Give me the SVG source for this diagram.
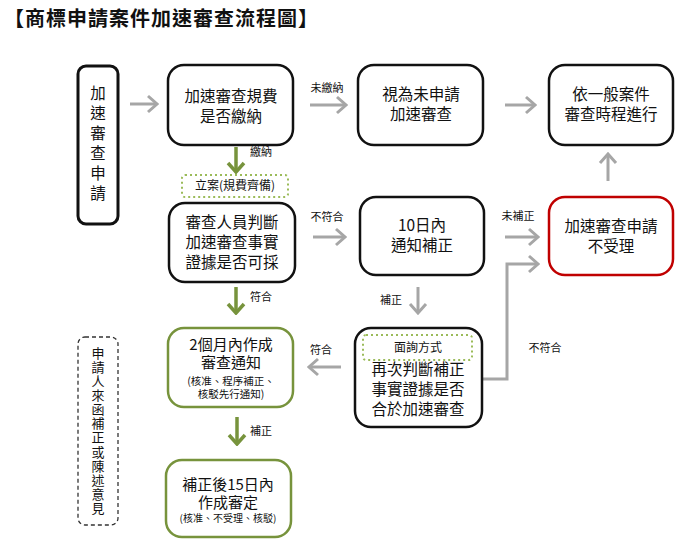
<svg xmlns="http://www.w3.org/2000/svg" width="690" height="552" viewBox="0 0 690 552">
<defs>
<marker id="ag" viewBox="-12 -10 14 20" refX="0" refY="0" markerWidth="14" markerHeight="20" markerUnits="userSpaceOnUse" orient="auto"><path d="M-9,-8 L0,0 L-9,8" fill="none" stroke="#a6a6a6" stroke-width="3"/></marker>
<marker id="agr" viewBox="-12 -10 14 20" refX="0" refY="0" markerWidth="14" markerHeight="20" markerUnits="userSpaceOnUse" orient="auto"><path d="M-9,-8 L0,0 L-9,8" fill="none" stroke="#77933c" stroke-width="3.5"/></marker>
<style>
text{font-family:"Noto Sans CJK TC","Noto Sans",sans-serif;fill:#111;text-anchor:middle}
.t{font-size:15.5px}
.s{font-size:10.5px}
.l{font-size:11px}
.v{writing-mode:vertical-rl;text-anchor:middle}
.b{fill:#fff;stroke:#111;stroke-width:2.5}
.g{fill:#fff;stroke:#77933c;stroke-width:2.5}
.r{fill:#fff;stroke:#c00000;stroke-width:2.5}
.d{fill:#fff;stroke:#9bbb59;stroke-width:2;stroke-dasharray:2 3}
.k{fill:#fff;stroke:#333;stroke-width:1.3;stroke-dasharray:4 3}
.ga{fill:none;stroke:#a6a6a6;stroke-width:3;marker-end:url(#ag)}
.gg{fill:none;stroke:#77933c;stroke-width:3.5;marker-end:url(#agr)}
</style>
</defs>
<text x="4" y="26" style="font-size:20px;font-weight:bold;letter-spacing:1px;text-anchor:start">【商標申請案件加速審查流程圖】</text>

<g id="connectors">
<line class="ga" x1="130" y1="104" x2="157" y2="104"/>
<line class="ga" x1="310" y1="105" x2="346" y2="105"/>
<text class="l" x="327" y="92">未繳納</text>
<line class="ga" x1="505" y1="105" x2="535" y2="105"/>
<line class="ga" x1="608" y1="181" x2="608" y2="154"/>
<line class="gg" x1="236" y1="147" x2="236" y2="172"/>
<text class="l" x="261" y="156">繳納</text>
<line class="ga" x1="313" y1="237" x2="345" y2="237"/>
<text class="l" x="327" y="221">不符合</text>
<line class="ga" x1="505" y1="237" x2="538" y2="237"/>
<text class="l" x="518" y="220">未補正</text>
<polyline class="ga" points="482,379 507,379 507,264 538,264"/>
<text class="l" x="545" y="352">不符合</text>
<line class="ga" x1="418" y1="287" x2="418" y2="313"/>
<text class="l" x="391" y="304">補正</text>
<line class="gg" x1="236" y1="287" x2="236" y2="313"/>
<text class="l" x="261" y="301">符合</text>
<line class="ga" x1="341" y1="367" x2="309" y2="367"/>
<text class="l" x="321" y="354">符合</text>
<line class="gg" x1="237" y1="417" x2="237" y2="444"/>
<text class="l" x="261" y="435">補正</text>
</g>

<g id="n_start">
<rect class="b" x="78" y="66" width="40" height="158" rx="8" style="stroke-width:3"/>
<text class="v" x="98" y="145" style="font-size:15.5px;letter-spacing:4.5px">加速審查申請</text>
</g>

<g id="n_fee">
<rect class="b" x="168" y="65" width="125" height="80" rx="16"/>
<text class="t" x="231" y="102">加速審查規費</text>
<text class="t" x="231" y="122">是否繳納</text>
</g>

<g id="n_notapplied">
<rect class="b" x="358" y="65" width="125" height="80" rx="16"/>
<text class="t" x="421" y="100">視為未申請</text>
<text class="t" x="421" y="120">加速審查</text>
</g>

<g id="n_general">
<rect class="b" x="549" y="65" width="124" height="80" rx="16"/>
<text class="t" x="611" y="100">依一般案件</text>
<text class="t" x="611" y="120">審查時程進行</text>
</g>

<g id="n_filed">
<rect class="d" x="182" y="175" width="106" height="22" rx="3"/>
<text x="235" y="190" style="font-size:12px">立案(規費齊備)</text>
</g>

<g id="n_judge">
<rect class="b" x="169" y="203" width="126" height="79" rx="16"/>
<text class="t" x="232" y="228">審查人員判斷</text>
<text class="t" x="232" y="248">加速審查事實</text>
<text class="t" x="232" y="268">證據是否可採</text>
</g>

<g id="n_notify10">
<rect class="b" x="360" y="197" width="124" height="78" rx="16"/>
<text class="t" x="422" y="231">10日內</text>
<text class="t" x="422" y="251">通知補正</text>
</g>

<g id="n_reject">
<rect class="r" x="549" y="197" width="124" height="78" rx="16"/>
<text class="t" x="611" y="232">加速審查申請</text>
<text class="t" x="611" y="252">不受理</text>
</g>

<g id="n_rejudge">
<rect class="b" x="355" y="328" width="127" height="99" rx="16"/>
<rect class="d" x="363" y="335" width="109" height="25" rx="3"/>
<text x="418" y="352" style="font-size:12px">面詢方式</text>
<text class="t" x="418" y="375">再次判斷補正</text>
<text class="t" x="418" y="395">事實證據是否</text>
<text class="t" x="418" y="415">合於加速審查</text>
</g>

<g id="n_twomonth">
<rect class="g" x="168" y="328" width="125" height="79" rx="16"/>
<text x="231" y="350" style="font-size:15px"><tspan x="231" y="350">2個月內作成</tspan><tspan x="231" y="368">審查通知</tspan><tspan x="231" y="385" style="font-size:10.5px">(核准、程序補正、</tspan><tspan x="231" y="398" style="font-size:10.5px">核駁先行通知)</tspan></text>
</g>

<g id="n_decision">
<rect class="g" x="166" y="460" width="125" height="77" rx="16"/>
<text x="228" y="490" style="font-size:15px"><tspan x="228" y="490">補正後15日內</tspan><tspan x="228" y="508">作成審定</tspan><tspan x="228" y="522" style="font-size:10px">(核准、不受理、核駁)</tspan></text>
</g>

<g id="n_applicant">
<rect class="k" x="78" y="337" width="40" height="188" rx="7"/>
<text class="v" x="98" y="431" style="font-size:13px;letter-spacing:1.1px">申請人來函補正或陳述意見</text>
</g>
</svg>
